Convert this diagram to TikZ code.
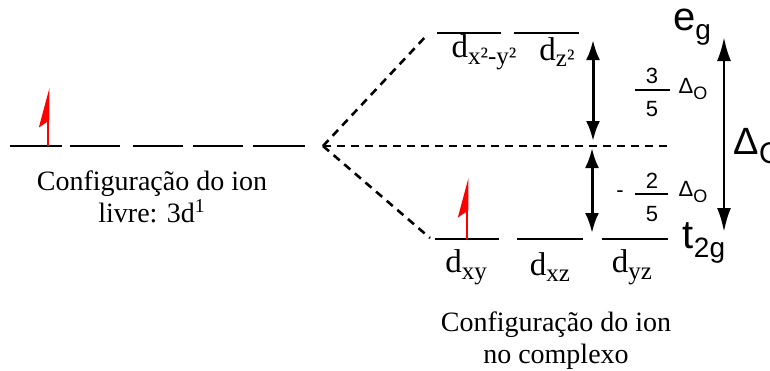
\documentclass[tikz,border=0pt]{standalone}
\usepackage{fontspec}
\setmainfont{Liberation Serif}
\newfontfamily\sansfont{Liberation Sans}
\usetikzlibrary{arrows.meta}
\newcommand{\orbd}[1]{d\raisebox{-0.45ex}{\fontsize{12.5}{12.5}\selectfont #1}}
\newcommand{\symsub}[2]{#1\raisebox{-0.45ex}{\fontsize{14}{14}\selectfont #2}}

\begin{document}
\begin{tikzpicture}[x=0.5pt,y=-0.5pt,
    every node/.style={inner sep=0pt},
    level/.style={line width=1.4pt},
    split/.style={line width=1.3pt,dash pattern=on 4pt off 3pt},
    gap/.style={{Latex[length=10pt,width=7pt]}-{Latex[length=10pt,width=7pt]},line width=1.5pt},
    bigap/.style={{Latex[length=12pt,width=7pt]}-{Latex[length=12pt,width=7pt]},line width=1.4pt},
    spin/.style={red,line width=1.4pt,-{Stealth[left,length=17pt,width=9pt,inset=3pt]}},
    orb/.style={font=\fontsize{16.5}{16.5}\selectfont},
    lbl/.style={font=\fontsize{14}{16}\selectfont,align=center},
    sym/.style={font=\sansfont\fontsize{20}{20}\selectfont},
    frac/.style={font=\sansfont\fontsize{11}{11}\selectfont},
    fbar/.style={line width=1pt},
  ]
  \useasboundingbox (0,0) rectangle (770,370);

  % free ion: five degenerate levels
  \foreach \a/\b [count=\i] in {10/62,70/120,133/183,193/243,253/305}
    \draw[level] (\a,146) coordinate (f\i a) -- (\b,146) coordinate (f\i b);
  \coordinate (s1) at (48,146);
  \coordinate (e1) at (48,88);
  \draw[spin] (s1) -- (e1);

  % complex: eg and t2g
  \draw[level] (437,33) coordinate (xya2) -- (501,33) coordinate (xyb2);
  \draw[level] (514,33) coordinate (za2) -- (579,33) coordinate (zb2);
  \draw[level] (435,239) coordinate (xya) -- (499,239) coordinate (xyb);
  \draw[level] (517,239) coordinate (xza) -- (583,239) coordinate (xzb);
  \draw[level] (602,239) coordinate (yza) -- (668,239) coordinate (yzb);
  \coordinate (s2) at (467,239);
  \coordinate (e2) at (467,178);
  \draw[spin] (s2) -- (e2);

  % barycentre and splitting
  \coordinate (bary) at (323,146);
  \coordinate (baryend) at (670,146);
  \coordinate (egin) at (428,34);
  \coordinate (tin) at (430,238);
  \draw[split] (bary) -- (baryend);
  \draw[split] (bary) -- (egin);
  \draw[split] (bary) -- (tin);

  % energy gaps
  \coordinate (gu1) at (593,40);
  \coordinate (gu2) at (593,141);
  \coordinate (gl1) at (592,148);
  \coordinate (gl2) at (592,233);
  \coordinate (dq1) at (724,37);
  \coordinate (dq2) at (724,232);
  \draw[gap] (gu1) -- (gu2);
  \draw[gap] (gl1) -- (gl2);
  \draw[bigap] (dq1) -- (dq2);

  % orbital labels
  \node[orb] (lx2) at (484,52) {\orbd{x²-y²}};
  \node[orb] (lz2) at (557,52) {\orbd{z²}};
  \node[orb] (lxy) at (466,267) {\orbd{xy}};
  \node[orb] (lxz) at (550,267) {\orbd{xz}};
  \node[orb] (lyz) at (632,267) {\orbd{yz}};

  % symmetry labels
  \node[sym] (eg) at (692,27) {\symsub{e}{g}};
  \node[sym] (t2g) at (704,243) {\symsub{t}{2g}};
  \node[sym,font=\sansfont\fontsize{19}{19}\selectfont] (dO) at (758,146) {Δ\raisebox{-0.45ex}{\fontsize{15}{15}\selectfont O}};

  % fractions of Delta_O
  \node[frac] (n3) at (652,76) {3};
  \node[frac] (d5) at (652,109) {5};
  \coordinate (b3a) at (635,90);
  \coordinate (b3b) at (670,90);
  \draw[fbar] (b3a) -- (b3b);
  \node[frac] (do1) at (693,89) {Δ\raisebox{-0.45ex}{\fontsize{9}{9}\selectfont O}};
  \node[frac] (mn) at (620,194) {-};
  \node[frac] (n2) at (652,181) {2};
  \node[frac] (d5b) at (652,214) {5};
  \coordinate (b2a) at (635,194);
  \coordinate (b2b) at (668,194);
  \draw[fbar] (b2a) -- (b2b);
  \node[frac] (do2) at (693,192) {Δ\raisebox{-0.45ex}{\fontsize{9}{9}\selectfont O}};

  % captions
  \node[lbl] (free) at (152,197) {Configuração do ion\\livre: 3d\textsuperscript{1}};
  \node[lbl] (cplx) at (556,341) {Configuração do ion\\no complexo};
\end{tikzpicture}
\end{document}
